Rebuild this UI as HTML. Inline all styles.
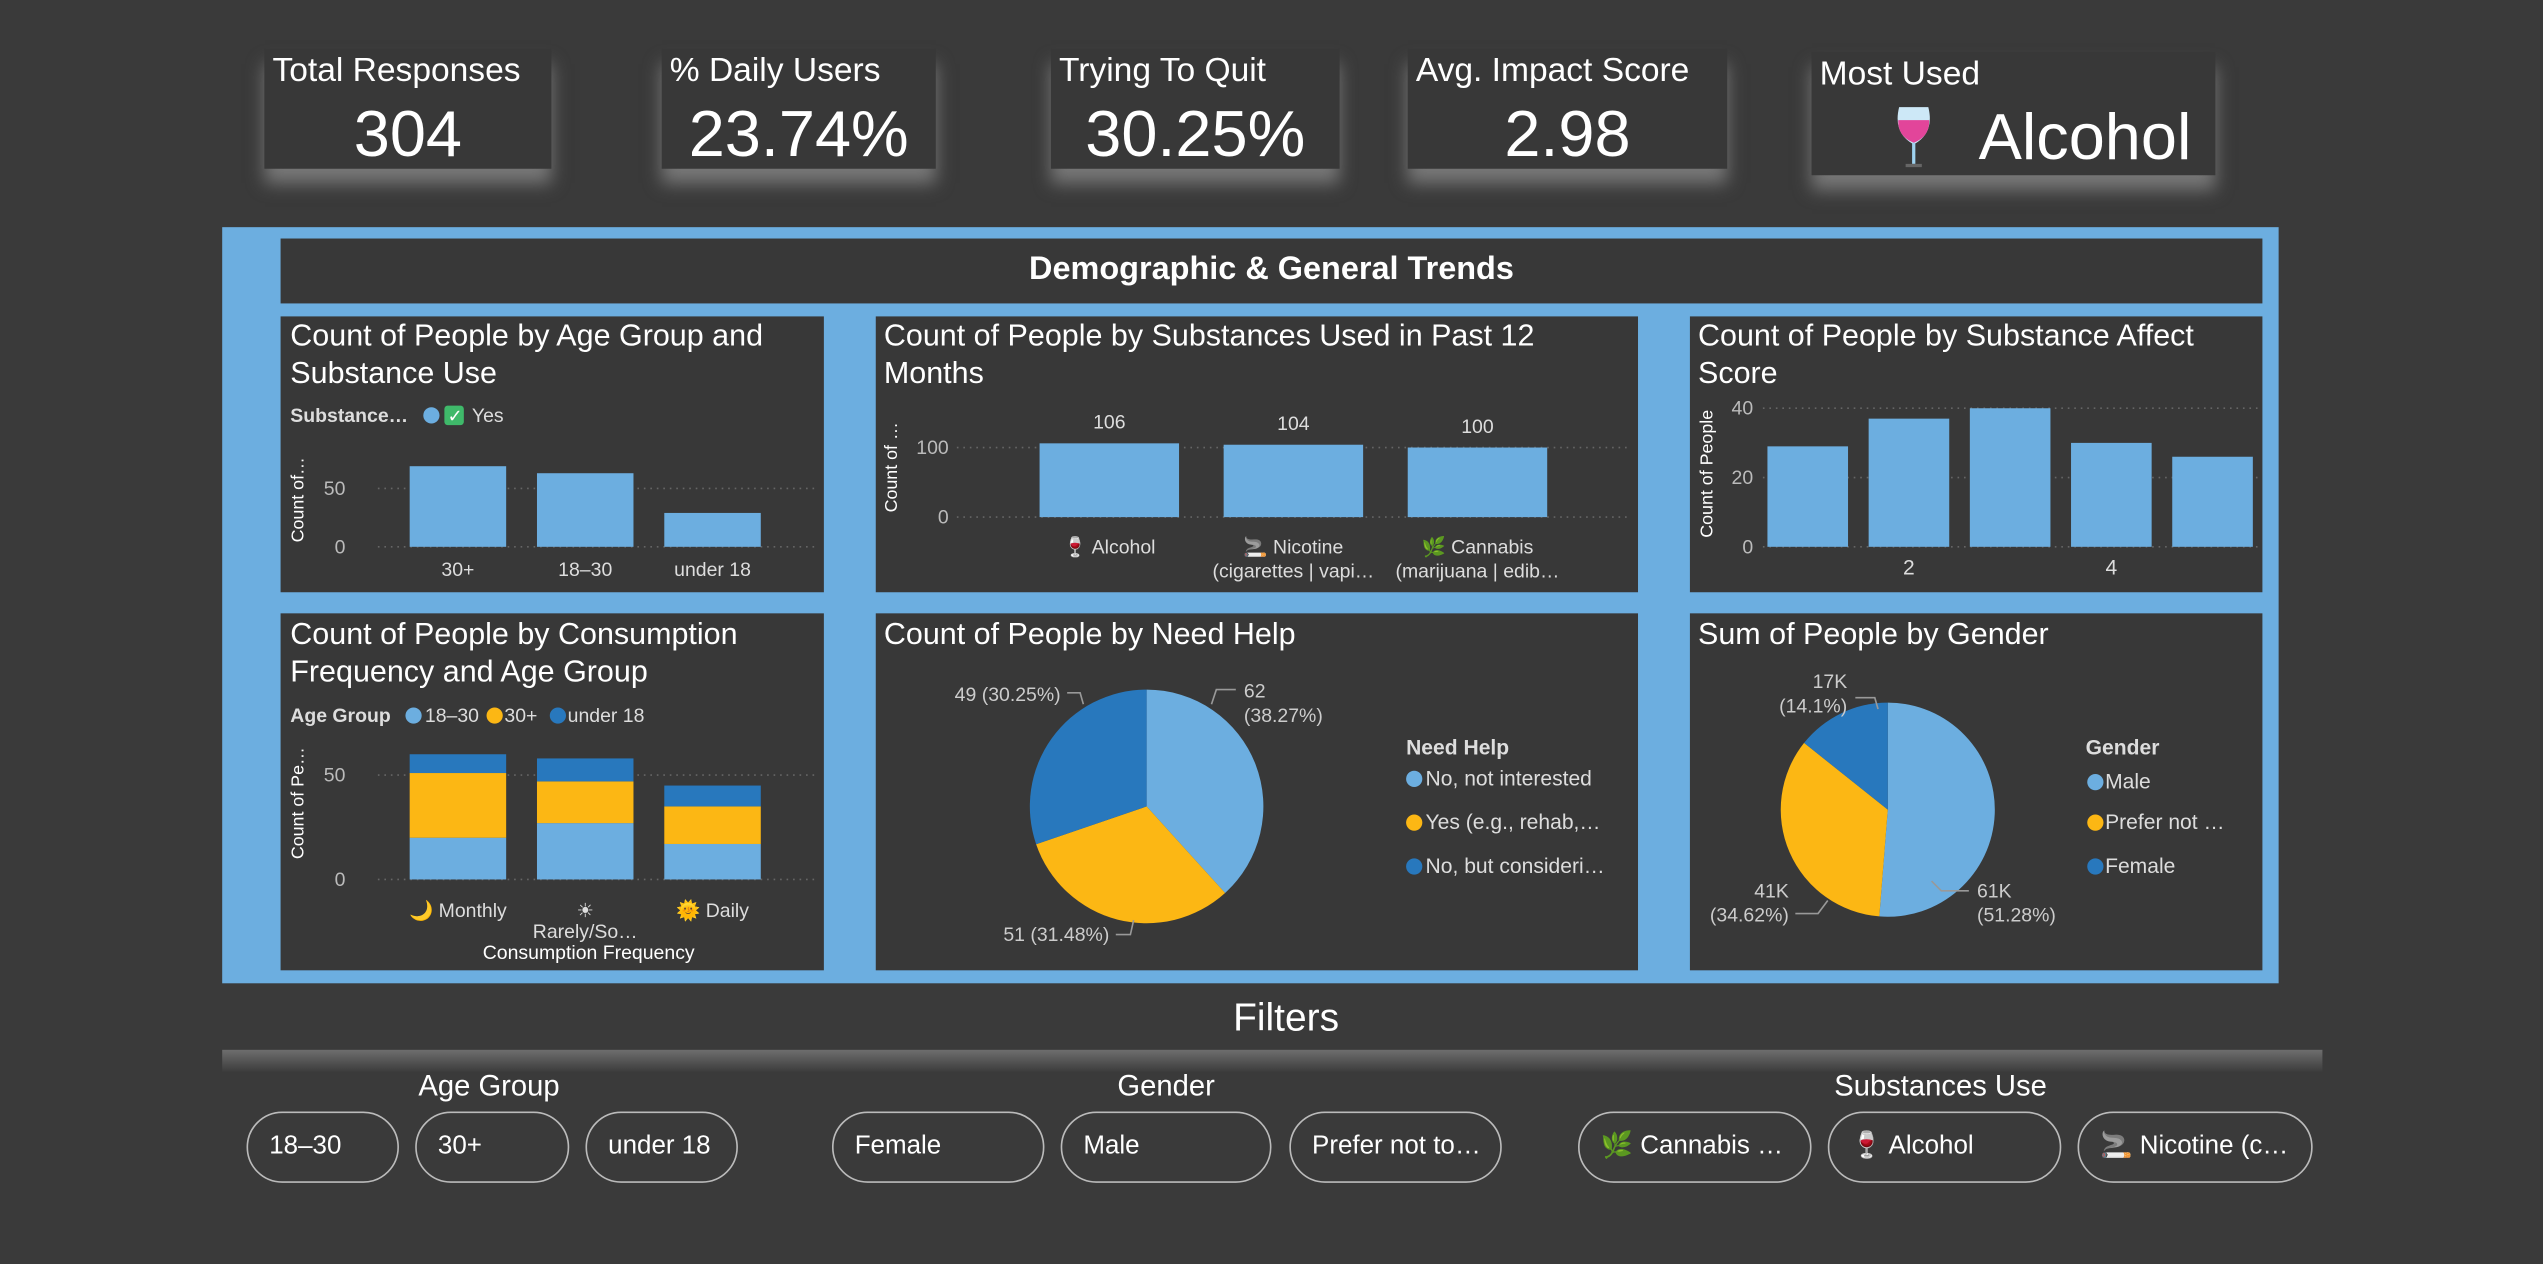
<!DOCTYPE html>
<html><head><meta charset="utf-8">
<style>
html,body{margin:0;padding:0;background:#3a3a3a;width:2543px;height:1264px;overflow:hidden;font-family:"Liberation Sans","DejaVu Sans",sans-serif;color:#fff}
#wrap{position:absolute;left:0;top:0;width:1568px;height:779px;transform:scale(1.6218,1.6226);transform-origin:0 0}
.card{position:absolute;background:#383838;box-shadow:0 9px 10px rgba(170,170,170,0.55)}
.card .t{position:absolute;left:5px;top:2px;font-size:20.7px;white-space:nowrap}
.card .v{position:absolute;left:0;right:0;top:31px;text-align:center;font-size:40px}
.panel{position:absolute;background:#383838}
.abs{position:absolute;white-space:nowrap}
.pill{position:absolute;top:685px;height:44px;border:1px solid #bbb;border-radius:22px;box-sizing:border-box;font-size:16px;line-height:42px;padding-left:13px;white-space:nowrap;overflow:hidden}
svg text{font-family:"Liberation Sans","DejaVu Sans",sans-serif}
</style></head><body>
<div id="wrap">
  <div class="card" style="left:163px;top:30px;width:177px;height:74px"><div class="t">Total Responses</div><div class="v">304</div></div>
  <div class="card" style="left:408px;top:30px;width:169px;height:74px"><div class="t">% Daily Users</div><div class="v">23.74%</div></div>
  <div class="card" style="left:648px;top:30px;width:178px;height:74px"><div class="t">Trying To Quit</div><div class="v">30.25%</div></div>
  <div class="card" style="left:868px;top:30px;width:197px;height:74px"><div class="t">Avg. Impact Score</div><div class="v">2.98</div></div>
  <div class="card" style="left:1117px;top:32px;width:249px;height:76px"><div class="t">Most Used</div>
    <svg style="position:absolute;left:50px;top:32px" width="26" height="40" viewBox="0 0 26 40"><path d="M4 2 H22 Q26 18 13 25 Q0 18 4 2Z" fill="#cde8f7"/><path d="M3.5 10 H22.5 Q23 20 13 24 Q3 20 3.5 10Z" fill="#e2459a"/><rect x="12" y="24" width="2" height="13" fill="#9fd3f0"/><rect x="8" y="37" width="10" height="2" fill="#666"/></svg>
    <div class="abs" style="left:103px;top:31px;font-size:40px">Alcohol</div></div>

  <div style="position:absolute;left:137px;top:140px;width:1268px;height:466px;background:#6caee0"></div>
  <div class="panel" style="left:173px;top:147px;width:1222px;height:40px"><div class="abs" style="left:0;right:0;top:8px;text-align:center;font-size:20px;font-weight:bold">Demographic &amp; General Trends</div></div>
  <div class="panel" style="left:173px;top:195px;width:335px;height:170px"></div>
  <div class="panel" style="left:540px;top:195px;width:470px;height:170px"></div>
  <div class="panel" style="left:1042px;top:195px;width:353px;height:170px"></div>
  <div class="panel" style="left:173px;top:378px;width:335px;height:220px"></div>
  <div class="panel" style="left:540px;top:378px;width:470px;height:220px"></div>
  <div class="panel" style="left:1042px;top:378px;width:353px;height:220px"></div>

  <svg id="charts" style="position:absolute;left:0;top:0" width="1568" height="779">
    <g fill="#fff" font-size="18.8">
      <text x="179" y="213">Count of People by Age Group and</text>
      <text x="179" y="236">Substance Use</text>
      <text x="545" y="213">Count of People by Substances Used in Past 12</text>
      <text x="545" y="236">Months</text>
      <text x="1047" y="213">Count of People by Substance Affect</text>
      <text x="1047" y="236">Score</text>
      <text x="179" y="397">Count of People by Consumption</text>
      <text x="179" y="420">Frequency and Age Group</text>
      <text x="545" y="397">Count of People by Need Help</text>
      <text x="1047" y="397">Sum of People by Gender</text>
    </g>
    <g font-size="12" fill="#ddd">
      <text x="179" y="260" font-weight="bold">Substance…</text>
      <circle cx="266" cy="256" r="5" fill="#6caee0"/>
      <rect x="274" y="250" width="12" height="12" rx="2" fill="#3fb96a"/>
      <text x="276" y="260" fill="#fff" font-size="11">✓</text>
      <text x="291" y="260">Yes</text>
      <text x="179" y="445" font-weight="bold">Age Group</text>
      <circle cx="255" cy="441" r="5" fill="#6caee0"/>
      <text x="262" y="445">18–30</text>
      <circle cx="305" cy="441" r="5" fill="#fcb714"/>
      <text x="311" y="445">30+</text>
      <circle cx="344" cy="441" r="5" fill="#2878bd"/>
      <text x="350" y="445">under 18</text>
    </g>
    <g id="c1"></g><g id="c2"></g><g id="c3"></g><g id="c4"></g><g id="c5"></g><g id="c6"></g>
    <g font-size="13" fill="#ddd">
      <text x="867" y="465" font-weight="bold">Need Help</text>
      <circle cx="872" cy="480" r="5" fill="#6caee0"/>
      <text x="879" y="484">No, not interested</text>
      <circle cx="872" cy="507" r="5" fill="#fcb714"/>
      <text x="879" y="511">Yes (e.g., rehab,…</text>
      <circle cx="872" cy="534" r="5" fill="#2878bd"/>
      <text x="879" y="538">No, but consideri…</text>
      <text x="1286" y="465" font-weight="bold">Gender</text>
      <circle cx="1292" cy="482" r="5" fill="#6caee0"/>
      <text x="1298" y="486">Male</text>
      <circle cx="1292" cy="507" r="5" fill="#fcb714"/>
      <text x="1298" y="511">Prefer not …</text>
      <circle cx="1292" cy="534" r="5" fill="#2878bd"/>
      <text x="1298" y="538">Female</text>
    </g>
  </svg>

  <div class="abs" style="left:0;width:1586px;top:614px;text-align:center;font-size:24px">Filters</div>
  <div style="position:absolute;left:137px;top:647px;width:1295px;height:14px;background:linear-gradient(#6e6e6e,#3a3a3a)"></div>
  <div class="abs" style="left:258px;top:659px;font-size:18px">Age Group</div>
  <div class="abs" style="left:689px;top:659px;font-size:18px">Gender</div>
  <div class="abs" style="left:1131px;top:659px;font-size:18px">Substances Use</div>
  <div class="pill" style="left:152px;width:94px">18–30</div>
  <div class="pill" style="left:256px;width:95px">30+</div>
  <div class="pill" style="left:361px;width:94px">under 18</div>
  <div class="pill" style="left:513px;width:131px">Female</div>
  <div class="pill" style="left:654px;width:130px">Male</div>
  <div class="pill" style="left:795px;width:131px">Prefer not to…</div>
  <div class="pill" style="left:973px;width:144px"><span style="color:#8bc34a">🌿</span> Cannabis …</div>
  <div class="pill" style="left:1127px;width:144px"><span style="color:#e2459a">🍷</span> Alcohol</div>
  <div class="pill" style="left:1281px;width:145px"><span style="color:#ccc">🚬</span> Nicotine (c…</div>
</div>
<script>
const ageCats = ["30+", "18–30", "under 18"];
const ageVals = [69, 63, 29];
const subCats = ["Alcohol", "Nicotine", "Cannabis"];
const subVals = [106, 104, 100];
const scoreCats = [1, 2, 3, 4, 5];
const scoreVals = [29, 37, 40, 30, 26];
const freqCats = ["Monthly", "Rarely/So…", "Daily"];
const freq1830 = [20, 27, 17];
const freq30p = [31, 20, 18];
const freqU18 = [9, 11, 10];
const helpLabels = ["No, not interested", "Yes (e.g., rehab,…", "No, but consideri…"];
const helpVals = [62, 51, 49];
const genderLabels = ["Male", "Prefer not …", "Female"];
const genderVals = [61, 41, 17];
const ticks1 = [0, 50];
const ticks2 = [0, 100];
const ticks3 = [0, 20, 40];
const scoreTickLabels = [2, 4];

const NS = "http://www.w3.org/2000/svg";
const C_LIGHT = "#6caee0", C_YEL = "#fcb714", C_DARK = "#2878bd";
function mk(tag, attrs, parent) {
  const e = document.createElementNS(NS, tag);
  for (const k in attrs) e.setAttribute(k, attrs[k]);
  parent.appendChild(e);
  return e;
}
function txt(parent, x, y, s, size, fill, anchor) {
  const t = mk("text", {x: x, y: y, "font-size": size, fill: fill, "text-anchor": anchor || "start"}, parent);
  t.textContent = s;
  return t;
}
function yScale(y0, k) { return v => y0 - v * k; }
function xBand(x0, step) { return i => x0 + i * step; }
function axis(g, ys, ticks, tx, gx0, gx1) {
  ticks.forEach(v => {
    const l = mk("line", {x1: gx0, x2: gx1, y1: ys(v), y2: ys(v), stroke: "#666", "stroke-dasharray": "1,3"}, g);
    
    
    const t = txt(g, tx, ys(v) + 4, String(v), 12, "#bbb", "end");
    
    
  });
}
function ytitle(g, x, y, s) {
  const t = mk("text", {x: 0, y: 0, "font-size": 11, fill: "#fff", "text-anchor": "middle", transform: "translate(" + x + "," + y + ") rotate(-90)"}, g);
  t.textContent = s;
  
  
}
function bars(g, vals, xs, w, ys, color) {
  vals.forEach((v, i) => {
    const r = mk("rect", {x: xs(i), y: ys(v), width: w, height: ys(0) - ys(v), fill: color}, g);
    
    
  });
}

(function () {
  const g = document.getElementById("c1");
  const ys = yScale(337, 0.72), xs = xBand(252.6, 78.5), w = 59.5;
  axis(g, ys, ticks1, 213, 233, 504);
  ytitle(g, 187, 308, "Count of…");
  bars(g, ageVals, xs, w, ys, C_LIGHT);
  ageCats.forEach((c, i) => {
    const t = txt(g, xs(i) + w / 2, 355, c, 12, "#ddd", "middle");
    
    
  });
})();

(function () {
  const g = document.getElementById("c2");
  const ys = yScale(318.7, 0.429), xs = xBand(641, 113.5), w = 86;
  axis(g, ys, ticks2, 585, 590, 1005);
  ytitle(g, 553, 288, "Count of …");
  bars(g, subVals, xs, w, ys, C_LIGHT);
  const icons = ["🍷", "🚬", "🌿"];
  const sub2 = ["", "(cigarettes | vapi…", "(marijuana | edib…"];
  subVals.forEach((v, i) => {
    const t = txt(g, xs(i) + w / 2, ys(v) - 9, String(v), 12, "#ddd", "middle");
    
    
    const t2 = txt(g, xs(i) + w / 2, 341, icons[i] + " " + subCats[i], 12, "#ddd", "middle");
    
    
    if (sub2[i]) {
      const t3 = txt(g, xs(i) + w / 2, 356, sub2[i], 12, "#ddd", "middle");
      
      
    }
  });
})();

(function () {
  const g = document.getElementById("c3");
  const ys = yScale(337, 2.135), xs = xBand(1089.8, 62.4), w = 49.7;
  axis(g, ys, ticks3, 1081, 1087, 1392);
  ytitle(g, 1056, 292, "Count of People");
  bars(g, scoreVals, xs, w, ys, C_LIGHT);
  scoreTickLabels.forEach(s => {
    const i = scoreCats.indexOf(s);
    const t = txt(g, xs(i) + w / 2, 354, String(s), 13, "#ddd", "middle");
    
    
  });
})();

(function () {
  const g = document.getElementById("c4");
  const ys = yScale(542, 1.286), xs = xBand(252.6, 78.5), w = 59.5;
  axis(g, ys, ticks1, 213, 233, 504);
  ytitle(g, 187, 495, "Count of Pe…");
  freqCats.forEach((c, i) => {
    let base = 0;
    [[freq1830, C_LIGHT], [freq30p, C_YEL], [freqU18, C_DARK]].forEach(([arr, col]) => {
      const v = arr[i];
      const r = mk("rect", {x: xs(i), y: ys(base + v), width: w, height: ys(base) - ys(base + v), fill: col}, g);
      
      
      base += v;
    });
  });
  const icons = ["🌙", "☀", "🌞"];
  const lbl = ["Monthly", "", "Daily"];
  freqCats.forEach((c, i) => {
    const cx = xs(i) + w / 2;
    const t = txt(g, cx, 565, icons[i] + (lbl[i] ? " " + lbl[i] : ""), 12, "#ddd", "middle");
    
    
    if (!lbl[i]) {
      const t2 = txt(g, cx, 578, c, 12, "#ddd", "middle");
      
      
    }
  });
  const at = txt(g, 363, 591, "Consumption Frequency", 12, "#fff", "middle");
  
  
})();

function pie(g, cx, cy, r, vals, colors) {
  const tot = vals.reduce((a, b) => a + b, 0);
  let a = -Math.PI / 2;
  vals.forEach((v, i) => {
    const a2 = a + v / tot * Math.PI * 2;
    const large = (a2 - a) > Math.PI ? 1 : 0;
    const d = "M" + cx + "," + cy + " L" + (cx + r * Math.cos(a)) + "," + (cy + r * Math.sin(a)) +
      " A" + r + "," + r + " 0 " + large + " 1 " + (cx + r * Math.cos(a2)) + "," + (cy + r * Math.sin(a2)) + " Z";
    const p = mk("path", {d: d, fill: colors[i]}, g);
    
    
    a = a2;
  });
}
function pieLabel(g, lines, x, y, anchor, pts) {
  const l = mk("polyline", {points: pts, fill: "none", stroke: "#999", "stroke-width": 1}, g);
  
  
  lines.forEach((s, k) => {
    const t = txt(g, x, y + k * 15, s, 12, "#ccc", anchor);
    
    
  });
}
(function () {
  const g = document.getElementById("c5");
  pie(g, 707, 497, 72, helpVals, [C_LIGHT, C_YEL, C_DARK]);
  const tot = helpVals.reduce((a, b) => a + b, 0);
  const pct = v => (v / tot * 100).toFixed(2) + "%";
  pieLabel(g, [String(helpVals[0]), "(" + pct(helpVals[0]) + ")"], 767, 430, "start", "762,425 750,425 747,434");
  pieLabel(g, [helpVals[1] + " (" + pct(helpVals[1]) + ")"], 684, 580, "end", "688,576 697,576 699,567");
  pieLabel(g, [helpVals[2] + " (" + pct(helpVals[2]) + ")"], 654, 432, "end", "658,427 666,427 668,434");
})();
(function () {
  const g = document.getElementById("c6");
  pie(g, 1164, 499, 66, genderVals, [C_LIGHT, C_YEL, C_DARK]);
  pieLabel(g, ["61K", "(51.28%)"], 1219, 553, "start", "1214,549 1197,549 1191,543");
  pieLabel(g, ["41K", "(34.62%)"], 1103, 553, "end", "1107,563 1121,563 1127,555");
  pieLabel(g, ["17K", "(14.1%)"], 1139, 424, "end", "1144,430 1156,430 1158,437");
})();
</script>
</body></html>
